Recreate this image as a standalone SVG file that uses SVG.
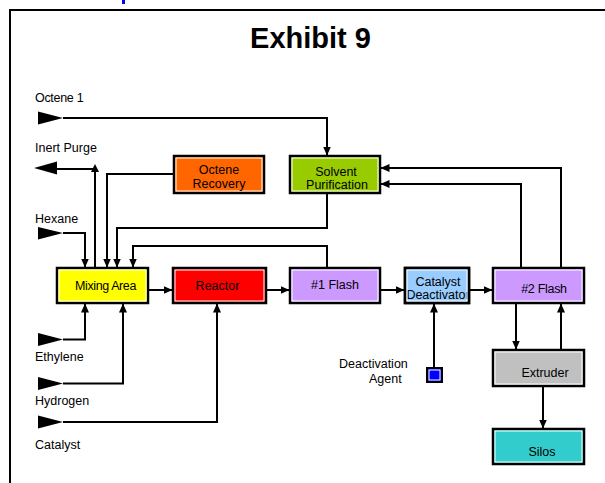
<svg xmlns="http://www.w3.org/2000/svg" width="605" height="483" viewBox="0 0 605 483">
  <defs>
    <marker id="arrow" markerUnits="userSpaceOnUse" markerWidth="9" markerHeight="9" viewBox="0 0 9 9" refX="8.5" refY="4.5" orient="auto">
      <path d="M0,0.5 L9,4.5 L0,8.5 z" fill="#000"/>
    </marker>
    <style>
      text { font-family: "Liberation Sans", Arial, sans-serif; font-size: 12.5px; fill: #000; }
      .title { font-size: 29px; font-weight: bold; text-anchor: middle; }
      .c { text-anchor: middle; }
      .box { stroke: #000; stroke-width: 2.5; }
      .inner { fill: none; stroke: #fff; stroke-width: 1; }
      .line { fill: none; stroke: #000; stroke-width: 2; stroke-linejoin: miter; }
      .arr { marker-end: url(#arrow); }
      .feed { fill: #000; }
    </style>
  </defs>

  <rect width="605" height="483" fill="#fff"/>
  <rect x="122" y="0" width="3" height="4" fill="#0000ff"/>
  <rect x="10" y="10" width="605" height="485" fill="none" stroke="#000" stroke-width="2"/>

  <text class="title" x="310.5" y="48">Exhibit 9</text>

  <!-- feed and product labels -->
  <g id="labels">
    <text x="35" y="102" letter-spacing="-0.3">Octene 1</text>
    <text x="35" y="152">Inert Purge</text>
    <text x="35" y="223">Hexane</text>
    <text x="35" y="361">Ethylene</text>
    <text x="35" y="405">Hydrogen</text>
    <text x="35" y="449">Catalyst</text>
    <text x="339" y="368">Deactivation</text>
    <text x="369" y="383">Agent</text>
  </g>

  <!-- connectors -->
  <g id="connectors">
    <!-- Octene 1 feed -->
    <polygon class="feed" points="38,111.5 63,118 38,124.5"/>
    <path class="line arr" d="M63,118 H327 V155"/>
    <!-- Inert purge vent -->
    <polygon class="feed" points="34,168 57,161.5 57,174.5"/>
    <path class="line" d="M95,267 V169 H57"/>
    <polygon class="feed" points="95,164 99,172 91,172"/>
    <!-- Hexane feed -->
    <polygon class="feed" points="38,227 63,233 38,239.5"/>
    <path class="line arr" d="M63,233 H85 V267"/>
    <!-- Octene recovery recycle -->
    <path class="line arr" d="M173,174 H107 V267"/>
    <!-- Solvent purification recycle -->
    <path class="line arr" d="M327,194 V228 H117 V267"/>
    <!-- #1 flash overhead recycle -->
    <path class="line arr" d="M327,267 V246 H133 V267"/>
    <!-- main train -->
    <path class="line arr" d="M149,290 H172"/>
    <path class="line arr" d="M267,290 H289"/>
    <path class="line arr" d="M381,290 H404"/>
    <path class="line arr" d="M470,290 H492"/>
    <!-- Ethylene, hydrogen, catalyst feeds -->
    <polygon class="feed" points="38,333 63,339.5 38,346"/>
    <path class="line arr" d="M63,339.5 H85 V304"/>
    <polygon class="feed" points="38,377 63,383.5 38,390"/>
    <path class="line arr" d="M63,383.5 H123 V304"/>
    <polygon class="feed" points="38,415.5 63,422 38,428.5"/>
    <path class="line arr" d="M63,422 H217 V304"/>
    <!-- deactivation agent -->
    <path class="line arr" d="M434,368 V304"/>
    <!-- #2 flash overheads to solvent purification -->
    <path class="line arr" d="M521,267 V184 H381"/>
    <path class="line arr" d="M561,267 V168 H381"/>
    <!-- #2 flash / extruder / silos -->
    <path class="line arr" d="M516,304 V349"/>
    <path class="line arr" d="M561,349 V304"/>
    <path class="line arr" d="M543,387 V428"/>
  </g>

  <g id="octene-recovery">
    <rect class="box" x="174" y="156" width="90" height="37" fill="#ff6600"/>
    <rect class="inner" x="176" y="158" width="86" height="33"/>
    <text class="c" x="219" y="174">Octene</text>
    <text class="c" x="219" y="188">Recovery</text>
  </g>

  <g id="solvent-purification">
    <rect class="box" x="290" y="156" width="90" height="37" fill="#99cc00"/>
    <rect class="inner" x="292" y="158" width="86" height="33"/>
    <text class="c" x="336" y="176">Solvent</text>
    <text class="c" x="337" y="189">Purification</text>
  </g>

  <g id="mixing-area">
    <rect class="box" x="57" y="268" width="91" height="35" fill="#ffff00"/>
    <rect class="inner" x="59" y="270" width="87" height="31"/>
    <text class="c" x="105.5" y="290" letter-spacing="-0.4">Mixing Area</text>
  </g>

  <g id="reactor">
    <rect class="box" x="173" y="268" width="93" height="35" fill="#ff0000"/>
    <rect class="inner" x="175" y="270" width="89" height="31"/>
    <text class="c" x="217.5" y="290">Reactor</text>
  </g>

  <g id="flash-1">
    <rect class="box" x="290" y="268" width="90" height="35" fill="#cc99ff"/>
    <rect class="inner" x="292" y="270" width="86" height="31"/>
    <text class="c" x="335" y="289">#1 Flash</text>
  </g>

  <g id="catalyst-deactivator">
    <rect class="box" x="405" y="268" width="64" height="35" fill="#99ccff"/>
    <text class="c" x="438" y="286">Catalyst</text>
    <text class="c" x="438" y="299">Deactivator</text>
    <rect class="box" x="405" y="268" width="64" height="35" fill="none"/>
    <rect class="inner" x="407" y="270" width="60" height="31"/>
  </g>

  <g id="flash-2">
    <rect class="box" x="493" y="268" width="91" height="35" fill="#cc99ff"/>
    <rect class="inner" x="495" y="270" width="87" height="31"/>
    <text class="c" x="544" y="293" letter-spacing="-0.3">#2 Flash</text>
  </g>

  <g id="extruder">
    <rect class="box" x="493" y="350" width="91" height="36" fill="#c0c0c0"/>
    <rect class="inner" x="495" y="352" width="87" height="32"/>
    <text class="c" x="545" y="377">Extruder</text>
  </g>

  <g id="silos">
    <rect class="box" x="493" y="429" width="91" height="35" fill="#33cccc"/>
    <rect class="inner" x="495" y="431" width="87" height="31"/>
    <text class="c" x="542" y="456">Silos</text>
  </g>

  <g id="deactivation-agent">
    <rect x="427" y="368" width="15" height="14" fill="#0000ff" stroke="#000" stroke-width="2"/>
    <rect x="429" y="370" width="11" height="10" fill="none" stroke="#fff" stroke-width="1"/>
  </g>
</svg>
